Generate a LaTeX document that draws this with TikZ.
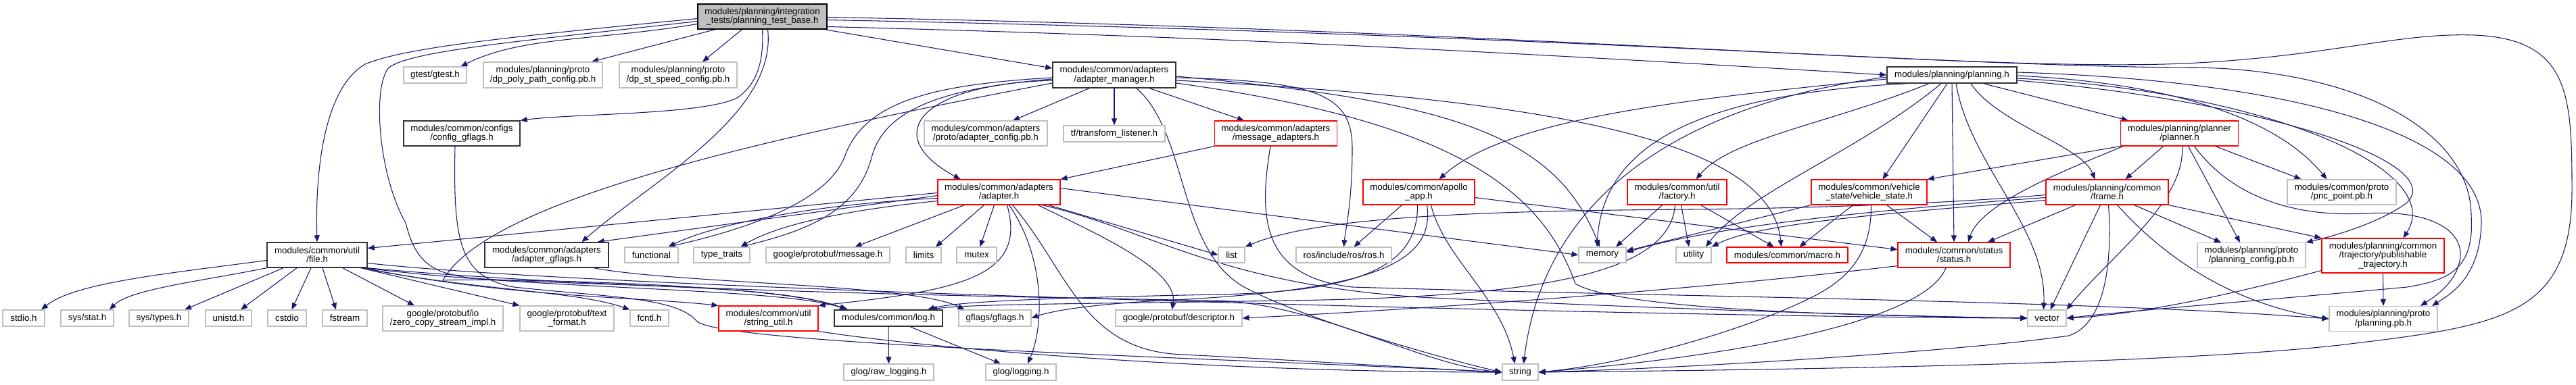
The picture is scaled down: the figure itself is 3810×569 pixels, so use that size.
\documentclass[tikz,border=0pt]{standalone}
\usepackage{fontspec}
\setmainfont{Liberation Sans}
\usetikzlibrary{arrows.meta,calc}
\definecolor{edgeblue}{HTML}{191970}
\newcommand\hfont{\fontsize{10}{10}\selectfont}
\pgfdeclarelayer{edges}
\pgfsetlayers{edges,main}
\tikzset{
  hdr/.style={rectangle, inner sep=0pt, align=center, font=\hfont, fill=white},
  sz/.style 2 args={minimum width=#1*0.75pt, minimum height=#2*0.75pt},
  rootbox/.style={hdr, draw=black, fill=gray!50, line width=1pt},
  docbox/.style={hdr, draw=black!80, line width=1.1pt},
  trunc/.style={hdr, draw=red, line width=0.9pt},
  ext/.style={hdr, draw=gray!50, line width=0.9pt},
  dep/.style={draw=edgeblue, line width=0.8pt, -{Triangle[length=7.5pt,width=6pt]}},
}
\begin{document}
\begin{tikzpicture}[x=0.75pt,y=-0.75pt]
  \useasboundingbox (0,0) rectangle (3810,569);
  \node[rootbox, sz={191}{37}] (root) at (1127.5,24.5) {modules/planning/integration\\\_tests/planning\_test\_base.h};
  \node[ext, sz={93}{24}] (gtest) at (643.5,111) {gtest/gtest.h};
  \node[ext, sz={176}{38}] (dppoly) at (803,111) {modules/planning/proto\\/dp\_poly\_path\_config.pb.h};
  \node[ext, sz={174}{38}] (dpst) at (1003,111) {modules/planning/proto\\/dp\_st\_speed\_config.pb.h};
  \node[docbox, sz={182}{38}] (adptmgr) at (1648,111) {modules/common/adapters\\/adapter\_manager.h};
  \node[docbox, sz={192}{24}] (planning) at (2887,111) {modules/planning/planning.h};
  \node[docbox, sz={172}{37}] (cfggflags) at (683,197.5) {modules/common/configs\\/config\_gflags.h};
  \node[ext, sz={182}{37}] (adptcfg) at (1458,197.5) {modules/common/adapters\\/proto/adapter\_config.pb.h};
  \node[ext, sz={150}{24}] (tf) at (1648,198) {tf/transform\_listener.h};
  \node[trunc, sz={181}{37}] (msgadpt) at (1887,197.5) {modules/common/adapters\\/message\_adapters.h};
  \node[trunc, sz={174}{37}] (planner) at (3223.5,197.5) {modules/planning/planner\\/planner.h};
  \node[trunc, sz={181}{37}] (adapter) at (1477.5,284.5) {modules/common/adapters\\/adapter.h};
  \node[trunc, sz={165}{37}] (apolloapp) at (2098.5,284.5) {modules/common/apollo\\\_app.h};
  \node[trunc, sz={147}{37}] (factory) at (2480.5,284.5) {modules/common/util\\/factory.h};
  \node[trunc, sz={171}{37}] (vstate) at (2764.5,284.5) {modules/common/vehicle\\\_state/vehicle\_state.h};
  \node[trunc, sz={181}{37}] (frame) at (3116.5,284.5) {modules/planning/common\\/frame.h};
  \node[ext, sz={161}{37}] (pncpoint) at (3463.5,284.5) {modules/common/proto\\/pnc\_point.pb.h};
  \node[docbox, sz={148}{37}] (fileh) at (469,377.5) {modules/common/util\\/file.h};
  \node[docbox, sz={183}{37}] (adptgflags) at (808.5,377.5) {modules/common/adapters\\/adapter\_gflags.h};
  \node[ext, sz={79}{23}] (functional) at (963.5,377.5) {functional};
  \node[ext, sz={83}{23}] (typetraits) at (1067.5,377.5) {type\_traits};
  \node[ext, sz={183}{23}] (message) at (1224.5,377.5) {google/protobuf/message.h};
  \node[ext, sz={52}{23}] (limits) at (1366,377.5) {limits};
  \node[ext, sz={59}{23}] (mutex) at (1444.5,377.5) {mutex};
  \node[ext, sz={39}{23}] (list) at (1821.5,377.5) {list};
  \node[ext, sz={141}{23}] (ros) at (1987.5,377.5) {ros/include/ros/ros.h};
  \node[ext, sz={70}{23}] (memory) at (2370,377.5) {memory};
  \node[ext, sz={52}{23}] (utility) at (2505,377.5) {utility};
  \node[trunc, sz={179}{23}] (macro) at (2643.5,377.5) {modules/common/macro.h};
  \node[trunc, sz={166}{37}] (status) at (2890,377.5) {modules/common/status\\/status.h};
  \node[ext, sz={160}{37}] (plancfg) at (3330,378) {modules/planning/proto\\/planning\_config.pb.h};
  \node[trunc, sz={181}{51}] (pubtraj) at (3524.5,378.5) {modules/planning/common\\/trajectory/publishable\\\_trajectory.h};
  \node[ext, sz={62}{24}] (stdio) at (35,471) {stdio.h};
  \node[ext, sz={78}{24}] (sysstat) at (129,471) {sys/stat.h};
  \node[ext, sz={88}{24}] (systypes) at (235,471) {sys/types.h};
  \node[ext, sz={68}{24}] (unistd) at (338,471) {unistd.h};
  \node[ext, sz={57}{24}] (cstdio) at (424.5,471) {cstdio};
  \node[ext, sz={66}{24}] (fstream) at (510,471) {fstream};
  \node[ext, sz={178}{37}] (zerocopy) at (655,471.5) {google/protobuf/io\\/zero\_copy\_stream\_impl.h};
  \node[ext, sz={139}{37}] (textformat) at (838.5,471.5) {google/protobuf/text\\\_format.h};
  \node[ext, sz={57}{24}] (fcntl) at (960.5,471) {fcntl.h};
  \node[trunc, sz={147}{37}] (strutil) at (1136.5,471.5) {modules/common/util\\/string\_util.h};
  \node[docbox, sz={160}{24}] (log) at (1314,471) {modules/common/log.h};
  \node[ext, sz={107}{24}] (gflags) at (1471.5,471) {gflags/gflags.h};
  \node[ext, sz={187}{24}] (descriptor) at (1743.5,471) {google/protobuf/descriptor.h};
  \node[ext, sz={57}{24}] (vector) at (3027.5,471) {vector};
  \node[ext, sz={160}{37}] (planpb) at (3525,472) {modules/planning/proto\\/planning.pb.h};
  \node[ext, sz={133}{24}] (rawlog) at (1314.5,551) {glog/raw\_logging.h};
  \node[ext, sz={104}{24}] (glog) at (1510,551) {glog/logging.h};
  \node[ext, sz={53}{24}] (string) at (2248.5,551) {string};

  \begin{pgfonlayer}{edges}
  \draw[dep] ($(root.west)+(0,11)$) .. controls +(-150,25) and +(90,-45) .. ($(gtest.north)+(38,0)$);
  \draw[dep] ($(root.south)+(-70,0)$) -- ($(dppoly.north)+(72,0)$);
  \draw[dep] ($(root.south)+(-30,0)$) -- ($(dpst.north)+(36,0)$);
  \draw[dep] (root.south) .. controls (1130,90) and (1120,125) .. (1090,145) .. controls (1040,170) and (850,168) .. (cfggflags.north east);
  \draw[dep] ($(root.west)+(0,3)$) .. controls (750,55) and (600,70) .. (540,95) .. controls (480,130) and (466,250) .. (fileh.north);
  \draw[dep] ($(root.west)+(0,7)$) .. controls (760,62) and (610,75) .. (575,100) .. controls (550,130) and (560,260) .. (600,330) .. controls (615,390) and (640,405) .. (700,412) .. controls (900,425) and (1150,420) .. ($(log.north)+(-62,0)$);
  \draw[dep] ($(root.south)+(8,0)$) .. controls (1150,170) and (960,270) .. ($(adptgflags.north)+(52,0)$);
  \draw[dep] ($(root.south east)+(-4,0)$) -- ($(adptmgr.west)+(0,-10)$);
  \draw[dep] ($(root.east)+(0,15)$) .. controls +(600,15) and +(-500,-30) .. (planning.west);
  \draw[dep] ($(root.east)+(0,1)$) .. controls (2300,45) and (2950,110) .. (3250,93) .. controls (3450,82) and (3550,48) .. (3660,52) .. controls (3800,58) and (3804,140) .. (3804,280) .. controls (3804,470) and (3700,482) .. (3460,511) .. controls (3200,540) and (2600,548) .. (string.east);
  \draw[dep] ($(root.east)+(0,5)$) .. controls (2300,50) and (2900,100) .. (3250,100) .. controls (3500,105) and (3655,200) .. (3655,320) .. controls (3660,400) and (3620,415) .. (3560,425) .. controls (3400,440) and (3150,460) .. (vector.east);

  \draw[dep] (planning.south) -- (status.north);
  \draw[dep] ($(planning.south east)+(-50,0)$) -- ($(planner.north west)+(12,0)$);
  \draw[dep] ($(planning.south)+(28,0)$) .. controls +(40,60) and +(-20,-50) .. ($(frame.north)+(-18,0)$);
  \draw[dep] ($(planning.south)+(6,0)$) .. controls +(20,120) and +(5,-120) .. ($(vector.north)+(-5,0)$);
  \draw[dep] ($(planning.south)+(-7,0)$) -- ($(vstate.north)+(20,0)$);
  \draw[dep] ($(planning.south)+(-16,0)$) .. controls +(-120,100) and +(60,-80) .. ($(utility.north)+(18,0)$);
  \draw[dep] ($(planning.south)+(-34,0)$) .. controls +(-150,60) and +(50,-60) .. ($(factory.north)+(28,0)$);
  \draw[dep] ($(planning.south west)+(30,0)$) .. controls (2500,140) and (2370,220) .. ($(memory.north)+(-8,0)$);
  \draw[dep] ($(planning.west)+(0,6)$) .. controls +(-300,30) and +(100,-90) .. ($(apolloapp.north)+(30,0)$);
  \draw[dep] ($(planning.west)+(0,3)$) .. controls +(-300,40) and +(30,-250) .. ($(string.north)+(5,0)$);
  \draw[dep] ($(planning.east)+(0,-4)$) .. controls (3400,120) and (3672,200) .. (3670,330) .. controls (3668,410) and (3625,435) .. ($(planpb.north)+(72,0)$);
  \draw[dep] ($(planning.east)+(0,1)$) .. controls (3250,125) and (3380,190) .. ($(pncpoint.north)+(-22,0)$);
  \draw[dep] ($(planning.east)+(0,5)$) .. controls (3350,135) and (3620,250) .. ($(pubtraj.north)+(30,0)$);
  \draw[dep] ($(planning.east)+(0,8)$) .. controls (3350,150) and (3620,240) .. (3560,300) .. controls (3520,330) and (3450,350) .. (plancfg.north east);

  \draw[dep] ($(planner.south)+(-24,0)$) -- ($(frame.north)+(27,0)$);
  \draw[dep] (planner.south west) -- (vstate.north east);
  \draw[dep] ($(planner.south west)+(4,0)$) .. controls (3060,250) and (2930,300) .. ($(status.north)+(21,0)$);
  \draw[dep] ($(planner.south)+(4,0)$) .. controls (3232,300) and (3120,380) .. (vector.north east);
  \draw[dep] ($(planner.south)+(13,0)$) -- ($(plancfg.north)+(-17,0)$);
  \draw[dep] ($(planner.south)+(53,0)$) -- ($(pncpoint.north)+(-60,0)$);
  \draw[dep] ($(planner.south)+(22,0)$) .. controls (3300,290) and (3390,322) .. (3500,316) .. controls (3600,310) and (3650,345) .. (3637,390) .. controls (3630,420) and (3600,440) .. ($(planpb.north)+(55,0)$);

  \draw[dep] ($(frame.south)+(-47,0)$) -- ($(status.north)+(50,0)$);
  \draw[dep] ($(frame.south)+(-10,0)$) -- ($(vector.north)+(5,0)$);
  \draw[dep] ($(frame.south)+(2,0)$) .. controls (3125,400) and (3110,480) .. (3060,497) .. controls (2900,520) and (2500,545) .. (string.east);
  \draw[dep] ($(frame.south)+(15,0)$) .. controls (3200,380) and (3300,450) .. (planpb.west);
  \draw[dep] ($(frame.south)+(40,0)$) -- ($(plancfg.north)+(-45,0)$);
  \draw[dep] (frame.south east) -- (pubtraj.north west);
  \draw[dep] ($(frame.west)+(0,4)$) .. controls (2900,300) and (2700,308) .. (2500,310) .. controls (2200,312) and (1950,320) .. (list.north east);
  \draw[dep] ($(frame.west)+(0,8)$) .. controls (2850,305) and (2550,330) .. ($(memory.east)+(0,-4)$);
  \draw[dep] ($(frame.west)+(0,12)$) .. controls (2800,315) and (2600,330) .. (utility.north east);

  \draw[dep] ($(vstate.south)+(-24,0)$) -- ($(macro.north)+(18,0)$);
  \draw[dep] ($(vstate.south)+(26,0)$) -- ($(status.north)+(-25,0)$);
  \draw[dep] ($(vstate.south)+(3,0)$) .. controls (2768,370) and (2740,410) .. (2680,440) .. controls (2580,490) and (2400,540) .. (string.east);
  \draw[dep] (vstate.south west) -- ($(memory.east)+(0,-6)$);

  \draw[dep] ($(factory.south)+(-22,0)$) -- ($(memory.north)+(20,0)$);
  \draw[dep] ($(factory.south)+(6,0)$) -- ($(utility.north)+(-7,0)$);
  \draw[dep] ($(factory.south)+(35,0)$) -- ($(macro.north)+(-20,0)$);
  \draw[dep] ($(factory.south)+(-3,0)$) .. controls (2470,400) and (2300,440) .. (1900,445) .. controls (1600,450) and (1430,450) .. ($(log.north)+(62,0)$);

  \draw[dep] ($(apolloapp.south)+(-25,0)$) -- ($(ros.north)+(15,0)$);
  \draw[dep] ($(apolloapp.south)+(-2,0)$) .. controls (2098,400) and (2000,432) .. (1800,436) .. controls (1600,440) and (1420,445) .. ($(log.north)+(58,0)$);
  \draw[dep] ($(apolloapp.south)+(12,0)$) .. controls (2125,400) and (2000,432) .. (1700,446) .. controls (1600,452) and (1550,462) .. (gflags.east);
  \draw[dep] ($(apolloapp.south)+(18,0)$) .. controls +(20,80) and +(-20,-100) .. ($(string.north)+(-8,0)$);
  \draw[dep] ($(apolloapp.east)+(0,8)$) -- ($(status.west)+(0,-8)$);

  \draw[dep] ($(adptmgr.south)+(-37,0)$) -- ($(adptcfg.north)+(40,0)$);
  \draw[dep] (adptmgr.south) -- (tf.north);
  \draw[dep] ($(adptmgr.south)+(52,0)$) -- ($(msgadpt.north)+(-47,0)$);
  \draw[dep] ($(adptmgr.west)+(0,8)$) .. controls (1360,125) and (1300,200) .. ($(adapter.north)+(-57,0)$);
  \draw[dep] ($(adptmgr.west)+(0,4)$) .. controls (1380,125) and (1280,150) .. (1250,230) .. controls (1225,300) and (1100,340) .. ($(functional.north)+(25,0)$);
  \draw[dep] ($(adptmgr.west)+(0,6)$) .. controls (1400,130) and (1310,160) .. (1290,230) .. controls (1270,310) and (1200,340) .. ($(typetraits.north)+(28,0)$);
  \draw[dep] ($(adptmgr.west)+(0,12)$) .. controls (1100,210) and (720,300) .. (655,415) .. controls (700,412) and (1150,418) .. ($(log.north)+(-62,0)$);
  \draw[dep] ($(adptmgr.south)+(33,0)$) .. controls (1760,200) and (1740,380) .. (1850,430) .. controls (1950,480) and (2150,535) .. (string.west);
  \draw[dep] ($(adptmgr.east)+(0,4)$) .. controls (1950,120) and (2000,140) .. (2000,220) .. controls (2000,300) and (1990,340) .. (ros.north);
  \draw[dep] ($(adptmgr.east)+(0,2)$) .. controls (2150,150) and (2300,200) .. ($(memory.north)+(-4,0)$);
  \draw[dep] ($(adptmgr.east)+(0,8)$) .. controls (2350,150) and (2620,220) .. ($(macro.north)+(-9,0)$);
  \draw[dep] ($(adptmgr.east)+(0,12)$) .. controls (2150,180) and (2280,280) .. (2330,420) .. controls (2400,462) and (2800,468) .. (vector.west);

  \draw[dep] (msgadpt.south west) -- (adapter.north east);
  \draw[dep] ($(msgadpt.south)+(-8,0)$) .. controls (1860,330) and (1870,410) .. (2000,425) .. controls (2500,440) and (3100,445) .. (planpb.west);

  \draw[dep] ($(adapter.west)+(0,1)$) -- ($(fileh.east)+(0,-10)$);
  \draw[dep] ($(adapter.west)+(0,5)$) -- ($(adptgflags.north)+(75,0)$);
  \draw[dep] ($(adapter.west)+(0,9)$) .. controls +(-200,10) and +(60,-30) .. ($(functional.north)+(25,0)$);
  \draw[dep] ($(adapter.west)+(0,13)$) .. controls +(-150,15) and +(50,-30) .. ($(typetraits.north)+(28,0)$);
  \draw[dep] ($(adapter.south)+(-51,0)$) -- ($(message.north)+(40,0)$);
  \draw[dep] ($(adapter.south)+(-22,0)$) -- ($(limits.north)+(18,0)$);
  \draw[dep] ($(adapter.south)+(-7,0)$) -- ($(mutex.north)+(5,0)$);
  \draw[dep] ($(adapter.south)+(12,0)$) .. controls (1520,410) and (1420,430) .. (strutil.north east);
  \draw[dep] ($(adapter.south)+(15,0)$) .. controls (1545,380) and (1545,480) .. ($(glog.north)+(10,0)$);
  \draw[dep] ($(adapter.south)+(20,0)$) .. controls (1580,400) and (1600,520) .. (1750,525) .. controls (1950,535) and (2150,548) .. (string.west);
  \draw[dep] ($(adapter.south)+(58,0)$) .. controls +(80,40) and +(10,-60) .. ($(descriptor.north)+(-10,0)$);
  \draw[dep] ($(adapter.south)+(64,0)$) .. controls (1700,340) and (1800,420) .. (2100,440) .. controls (2500,460) and (2900,470) .. (vector.west);
  \draw[dep] ($(adapter.south east)+(-18,0)$) -- (list.west);
  \draw[dep] ($(adapter.east)+(0,-6)$) -- (memory.west);

  \draw[dep] ($(fileh.west)+(0,8)$) .. controls +(-150,20) and +(50,-40) .. ($(stdio.north)+(26,0)$);
  \draw[dep] (fileh.south west) .. controls +(-100,20) and +(30,-30) .. ($(sysstat.north)+(33,0)$);
  \foreach \leaf/\so/\eo in {systypes/-50/38, unistd/-30/18, cstdio/-9/7, fstream/8/-13, zerocopy/38/-42}
    \draw[dep] ($(fileh.south)+(\so,0)$) -- ($(\leaf.north)+(\eo,0)$);
  \draw[dep] ($(fileh.south east)+(-10,0)$) -- (textformat.north west);
  \draw[dep] ($(fileh.south east)+(-8,0)$) .. controls (700,430) and (850,430) .. (fcntl.north west);
  \draw[dep] ($(fileh.south east)+(-6,0)$) .. controls (750,440) and (950,440) .. (strutil.north west);
  \draw[dep] ($(fileh.south east)+(-4,0)$) .. controls (800,430) and (1150,425) .. ($(log.north)+(-60,0)$);
  \draw[dep] ($(fileh.east)+(0,12)$) .. controls (900,430) and (2500,470) .. (vector.west);
  \draw[dep] (fileh.south east) .. controls (900,430) and (1500,440) .. (1800,445) .. controls (1950,450) and (2100,540) .. (string.west);

  \draw[dep] ($(adptgflags.south)+(70,0)$) .. controls (1000,420) and (1350,420) .. ($(gflags.north)+(-45,0)$);
  \draw[dep] ($(cfggflags.south)+(-10,0)$) .. controls (670,360) and (680,410) .. (760,425) .. controls (900,440) and (1000,440) .. (1030,475) .. controls (1060,510) and (1800,530) .. (string.west);
  \draw[dep] (strutil.south east) .. controls +(200,30) and +(-400,0) .. (string.west);
  \draw[dep] ($(status.south west)+(0,-3)$) .. controls (2500,430) and (2100,458) .. (descriptor.east);
  \draw[dep] ($(status.south)+(-12,0)$) .. controls (2850,470) and (2600,525) .. (string.east);
  \draw[dep] (pubtraj.south) -- (planpb.north);
  \draw[dep] ($(pubtraj.west)+(0,22)$) .. controls +(-150,40) and +(100,-5) .. (vector.east);
  \draw[dep] (log.south) -- (rawlog.north);
  \draw[dep] ($(log.south)+(32,0)$) -- ($(glog.north)+(-30,0)$);
  \end{pgfonlayer}
\end{tikzpicture}
\end{document}
